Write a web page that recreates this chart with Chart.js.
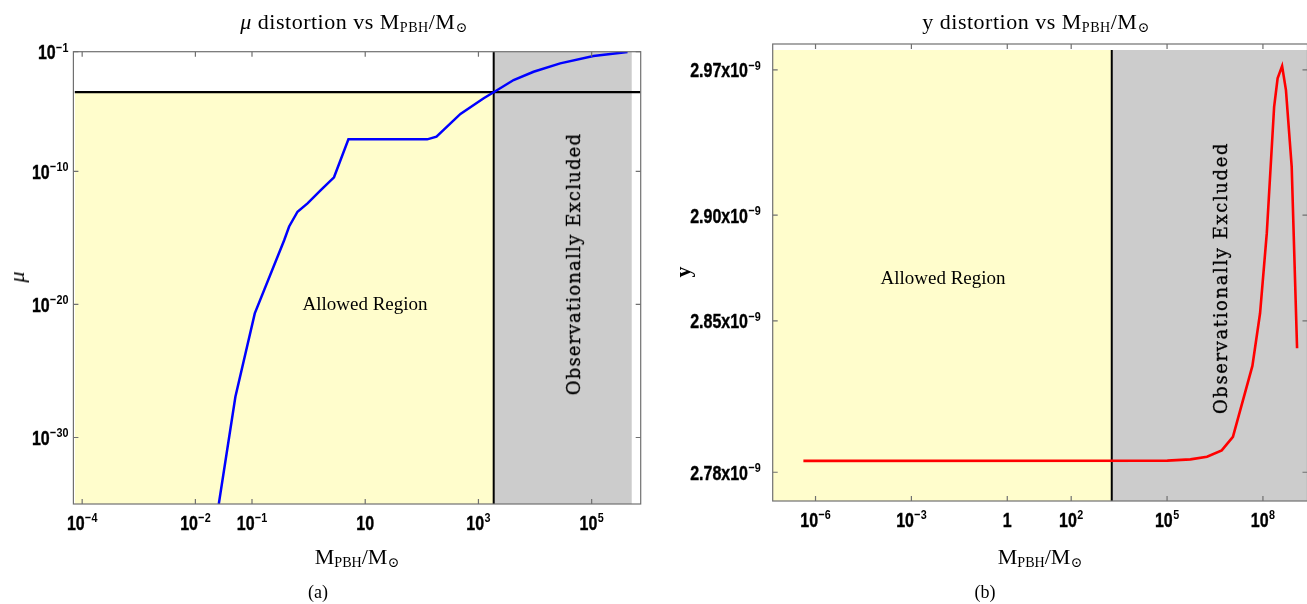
<!DOCTYPE html>
<html>
<head>
<meta charset="utf-8">
<script src="https://cdn.jsdelivr.net/npm/chart.js@4.4.1/dist/chart.umd.min.js"></script>
<style>
html, body { margin: 0; padding: 0; background: #fff; width: 1307px; height: 604px; overflow: hidden; }
#page { position: relative; width: 1307px; height: 604px; overflow: hidden; }
canvas { position: absolute; top: 0; }
.txt { position: absolute; font-family: 'Liberation Serif', 'DejaVu Serif', serif; color: #000; white-space: nowrap; line-height: 1; transform: translateX(-50%); }
.sub { font-size: 0.64em; position: relative; top: 0.2em; }
.rot { position: absolute; white-space: nowrap; line-height: 1; color: #000; transform: translate(-50%, -50%) rotate(-90deg); }
.excl { font-family: 'DejaVu Serif', serif; font-size: 18px; -webkit-text-stroke: 0.3px #000; }
</style>
</head>
<body>
<div id="page">
  <canvas id="mu-chart" width="650" height="604" style="left:0;width:650px;height:604px"></canvas>
  <canvas id="y-chart" width="662" height="604" style="left:650px;width:662px;height:604px"></canvas>

  <div class="txt" style="left:354px;top:11px;font-size:22px;letter-spacing:0.5px"><i>μ</i> distortion vs M<span class="sub">PBH</span>/M<span class="sub">⊙</span></div>
  <div class="txt" style="left:1036px;top:11px;font-size:22px;letter-spacing:0.5px">y distortion vs M<span class="sub">PBH</span>/M<span class="sub">⊙</span></div>

  <div class="txt" style="left:357px;top:546px;font-size:22px">M<span class="sub">PBH</span>/M<span class="sub">⊙</span></div>
  <div class="txt" style="left:1040px;top:546px;font-size:22px">M<span class="sub">PBH</span>/M<span class="sub">⊙</span></div>

  <div class="txt" style="left:318px;top:583px;font-size:18px">(a)</div>
  <div class="txt" style="left:985px;top:583px;font-size:18px">(b)</div>

  <div class="txt" style="left:365px;top:294px;font-size:19px">Allowed Region</div>
  <div class="txt" style="left:943px;top:268px;font-size:19px">Allowed Region</div>

  <div class="rot excl" style="left:574px;top:264px;letter-spacing:1.2px">Observationally Excluded</div>
  <div class="rot excl" style="left:1221px;top:278px;letter-spacing:1.6px">Observationally Excluded</div>

  <div class="rot" style="left:17px;top:277px;font-family:'Liberation Serif',serif;font-size:22px;font-style:italic">μ</div>
  <div class="rot" style="left:683px;top:272px;font-family:'Liberation Serif',serif;font-size:22px;font-weight:bold">y</div>
</div>

<script>
// panel (a): mu distortion
const muMass = [2.59e-2, 5.09e-2, 0.112, 0.370, 0.453, 0.637, 0.957, 1.64, 2.81, 5.05, 124.5, 181.6, 481, 1239, 1858, 4180, 9420, 27800, 107400, 430000];
const muValue = [1e-35, 1.15e-27, 2.14e-21, 6.76e-16, 7.24e-15, 9.33e-14, 3.98e-13, 3.98e-12, 3.63e-11, 2.57e-8, 2.57e-8, 4.07e-8, 2.09e-6, 3.16e-5, 8.9e-5, 7.41e-4, 3.09e-3, 1.32e-2, 4.68e-2, 9.5e-2];
const muLimit = 9e-5;
const muXRange = [7.41e-5, 7.35e5];
const muYRange = [1e-35, 1e-1];
const muExcludedEnd = 5.13e5;
const muXTicks = [1e-4, 1e-2, 1e-1, 10, 1e3, 1e5];
const muXTickLabels = ['10^-4', '10^-2', '10^-1', '10', '10^3', '10^5'];
const muYTicks = [1e-1, 1e-10, 1e-20, 1e-30];
const muYTickLabels = ['10^-1', '10^-10', '10^-20', '10^-30'];

// panel (b): y distortion
const yMass = [4.17e-7, 1.02e5, 5.37e5, 1.78e6, 5.13e6, 1.15e7, 4.68e7, 8.13e7, 1.32e8, 2.24e8, 2.88e8, 3.98e8, 5.25e8, 7.94e8, 1.17e9];
const yValue = [2.7852e-9, 2.7853e-9, 2.7859e-9, 2.7871e-9, 2.7900e-9, 2.7962e-9, 2.8290e-9, 2.8536e-9, 2.8914e-9, 2.9521e-9, 2.9659e-9, 2.9719e-9, 2.9602e-9, 2.9232e-9, 2.8372e-9];
const yXRange = [4.57e-8, 2.48e9];
const yYRange = [2.7669e-9, 2.9827e-9];
const yShadeTop = 2.9798e-9;
const yXTicks = [1e-6, 1e-3, 1, 1e2, 1e5, 1e8];
const yXTickLabels = ['10^-6', '10^-3', '1', '10^2', '10^5', '10^8'];
const yYTicks = [2.78e-9, 2.85e-9, 2.90e-9, 2.97e-9];
const yYTickLabels = ['2.78x10^-9', '2.85x10^-9', '2.90x10^-9', '2.97x10^-9'];

// shared boundary of the excluded region
const massLimit = 1860;

const ALLOWED = '#FFFDCC';
const EXCLUDED = '#CCCCCC';
const FRAME = '#707070';

function drawPowerLabel(ctx, text, x, y, align) {
    const parts = text.split('^');
    const base = parts[0];
    const exp = parts[1] ? parts[1].replace('-', '\u2212') : '';
    const baseFont = 'bold 20px "Liberation Sans", Arial, sans-serif';
    const expFont = 'bold 13.5px "Liberation Sans", Arial, sans-serif';
    ctx.save();
    ctx.translate(x, y);
    ctx.scale(0.8, 1);
    ctx.textAlign = 'left';
    ctx.textBaseline = 'alphabetic';
    ctx.fillStyle = '#000';
    ctx.strokeStyle = '#000';
    ctx.lineWidth = 0.4;
    ctx.font = baseFont;
    const wb = ctx.measureText(base).width;
    ctx.font = expFont;
    const we = exp ? ctx.measureText(exp).width + 0.5 : 0;
    const total = wb + we;
    const start = align === 'center' ? -total / 2 : (align === 'right' ? -total : 0);
    ctx.font = baseFont;
    ctx.fillText(base, start, 0);
    ctx.strokeText(base, start, 0);
    if (exp) {
        ctx.font = expFont;
        ctx.fillText(exp, start + wb + 0.5, -7.5);
    }
    ctx.restore();
}

const frameTicks = {
    id: 'frameTicks',
    afterDatasetsDraw(chart, args, opts) {
        const ctx = chart.ctx;
        const area = chart.chartArea;
        const xs = chart.scales.x;
        const ys = chart.scales.y;
        const len = 5;
        ctx.save();
        ctx.strokeStyle = FRAME;
        ctx.lineWidth = 1.2;
        ctx.strokeRect(area.left, area.top, area.right - area.left, area.bottom - area.top);
        ctx.beginPath();
        opts.xTicks.forEach(v => {
            const px = xs.getPixelForValue(v);
            ctx.moveTo(px, area.bottom); ctx.lineTo(px, area.bottom - len);
            ctx.moveTo(px, area.top); ctx.lineTo(px, area.top + len);
        });
        opts.yTicks.forEach(v => {
            const py = ys.getPixelForValue(v);
            ctx.moveTo(area.left, py); ctx.lineTo(area.left + len, py);
            ctx.moveTo(area.right, py); ctx.lineTo(area.right - len, py);
        });
        ctx.stroke();
        ctx.restore();

        opts.xTicks.forEach((v, i) => {
            drawPowerLabel(ctx, opts.xLabels[i], xs.getPixelForValue(v), area.bottom + 25.5, 'center');
        });
        opts.yTicks.forEach((v, i) => {
            drawPowerLabel(ctx, opts.yLabels[i], area.left - opts.gap, ys.getPixelForValue(v) + 7.5, 'right');
        });
    }
};

function toPoints(xs, ys) {
    return xs.map((x, i) => ({ x: x, y: ys[i] }));
}

function areaSet(points, color) {
    return { data: points, fill: 'start', backgroundColor: color, borderWidth: 0, pointRadius: 0, order: 4 };
}

function lineSet(points, color, width, order) {
    return { data: points, fill: false, borderColor: color, borderWidth: width, pointRadius: 0, order: order };
}

function makeChart(id, datasets, xRange, yRange, padding, tickOpts) {
    const ctx = document.getElementById(id).getContext('2d');
    return new Chart(ctx, {
        type: 'line',
        data: { datasets: datasets },
        options: {
            responsive: false,
            animation: false,
            devicePixelRatio: 1,
            events: [],
            layout: { padding: padding },
            elements: { line: { tension: 0 } },
            plugins: {
                legend: { display: false },
                tooltip: { enabled: false },
                frameTicks: tickOpts
            },
            scales: {
                x: { type: 'logarithmic', display: false, min: xRange[0], max: xRange[1] },
                y: { type: 'logarithmic', display: false, min: yRange[0], max: yRange[1] }
            }
        },
        plugins: [frameTicks]
    });
}

makeChart('mu-chart', [
    areaSet([{ x: muXRange[0], y: muLimit }, { x: massLimit, y: muLimit }], ALLOWED),
    areaSet([{ x: massLimit, y: muYRange[1] }, { x: muExcludedEnd, y: muYRange[1] }], EXCLUDED),
    lineSet([{ x: muXRange[0], y: muLimit }, { x: muXRange[1], y: muLimit }], '#000', 2.2, 2),
    lineSet([{ x: massLimit, y: muYRange[0] }, { x: massLimit, y: muYRange[1] }], '#000', 2, 2),
    lineSet(toPoints(muMass, muValue), '#0000FF', 2.5, 1)
], muXRange, muYRange, { left: 73.4, top: 51.7, right: 9.3, bottom: 100 },
   { xTicks: muXTicks, xLabels: muXTickLabels, yTicks: muYTicks, yLabels: muYTickLabels, gap: 5 });

makeChart('y-chart', [
    areaSet([{ x: yXRange[0], y: yShadeTop }, { x: massLimit, y: yShadeTop }], ALLOWED),
    areaSet([{ x: massLimit, y: yShadeTop }, { x: yXRange[1], y: yShadeTop }], EXCLUDED),
    lineSet([{ x: massLimit, y: yYRange[0] }, { x: massLimit, y: yShadeTop }], '#000', 2, 2),
    lineSet(toPoints(yMass, yValue), '#FF0000', 2.6, 1)
], yXRange, yYRange, { left: 122.7, top: 44, right: 4.5, bottom: 103 },
   { xTicks: yXTicks, xLabels: yXTickLabels, yTicks: yYTicks, yLabels: yYTickLabels, gap: 12 });
</script>
</body>
</html>
